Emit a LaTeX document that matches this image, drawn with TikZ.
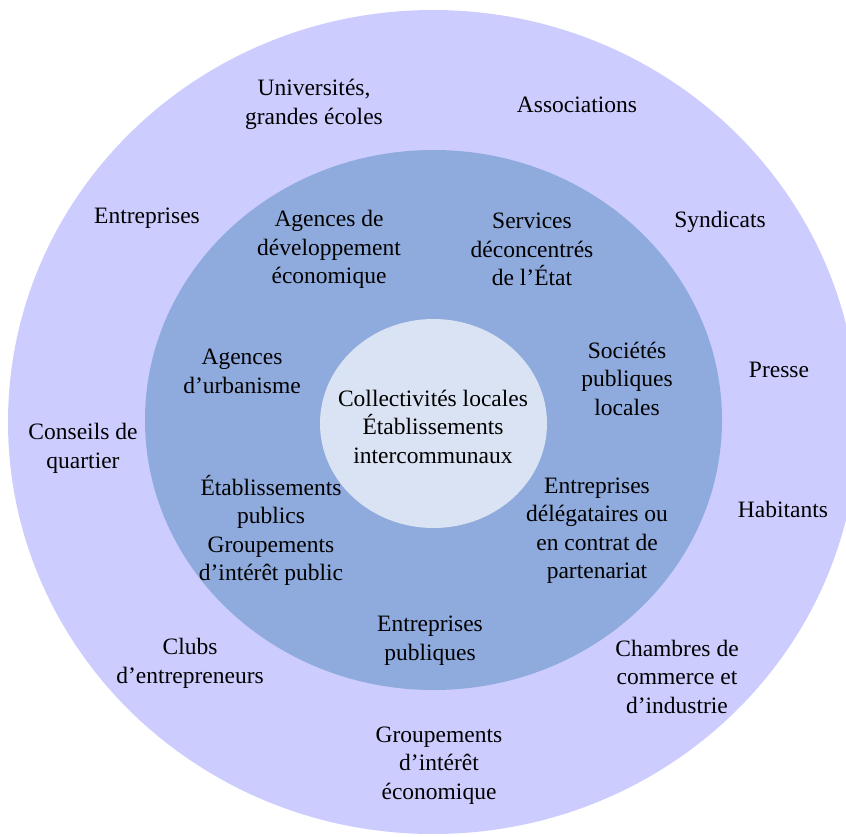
\documentclass[tikz,border=0pt]{standalone}
\usepackage{fontspec}
\setmainfont{Liberation Serif}
\usepackage{xcolor}
\usepackage{tikz}
\definecolor{ringOuter}{HTML}{CCCCFF}
\definecolor{ringMiddle}{HTML}{8FAADC}
\definecolor{ringInner}{HTML}{DAE3F3}

\begin{document}
\begin{tikzpicture}[
  x=1pt, y=-1pt,
  every node/.style={font=\fontsize{23.5}{28.5}\selectfont, align=center,
                     inner sep=0pt, text=black},
  actor/.style={yshift=-2.5pt},
]
\useasboundingbox (0,0) rectangle (846,836);

% --- Three nested rings ------------------------------------------------
\begin{scope}
  \clip (0,0) rectangle (846,836);
  \fill[ringOuter]  (433,422)   ellipse [x radius=425,   y radius=412];
  \fill[ringMiddle] (433.5,420) ellipse [x radius=288.5, y radius=270];
  \fill[ringInner]  (433.5,423.5) ellipse [x radius=113.5, y radius=104.5];
\end{scope}

% --- Core ----------------------------------------------------------------
\node[actor] (collectivites) at (433,424)
  {Collectivités locales\\Établissements\\intercommunaux};

% --- Middle ring: public bodies -------------------------------------------
\node[actor] (agencesDev)  at (329,247) {Agences de\\développement\\économique};
\node[actor] (services)    at (532,247) {Services\\déconcentrés\\de l’État};
\node[actor] (urbanisme)   at (242,369) {Agences\\d’urbanisme};
\node[actor] (spl)         at (627,376) {Sociétés\\publiques\\locales};
\node[actor] (etabPublics) at (271,528)
  {Établissements\\publics\\Groupements\\d’intérêt public};
\node[actor] (delegataires) at (597,528)
  {Entreprises\\délégataires ou\\en contrat de\\partenariat};
\node[actor] (entPubliques) at (430,638) {Entreprises\\publiques};

% --- Outer ring: private and civil actors ---------------------------------
\node[actor] (universites)  at (314,102) {Universités,\\grandes écoles};
\node[actor] (associations) at (577,102) {Associations};
\node[actor] (entreprises)  at (147,216) {Entreprises};
\node[actor] (syndicats)    at (720,219) {Syndicats};
\node[actor] (presse)       at (779,367) {Presse};
\node[actor] (conseils)     at (83,446)  {Conseils de\\quartier};
\node[actor] (habitants)    at (783,507) {Habitants};
\node[actor] (clubs)        at (190,661) {Clubs\\d’entrepreneurs};
\node[actor] (chambres)     at (677,674) {Chambres de\\commerce et\\d’industrie};
\node[actor] (gie)          at (439,763) {Groupements\\d’intérêt\\économique};
\end{tikzpicture}
\end{document}
